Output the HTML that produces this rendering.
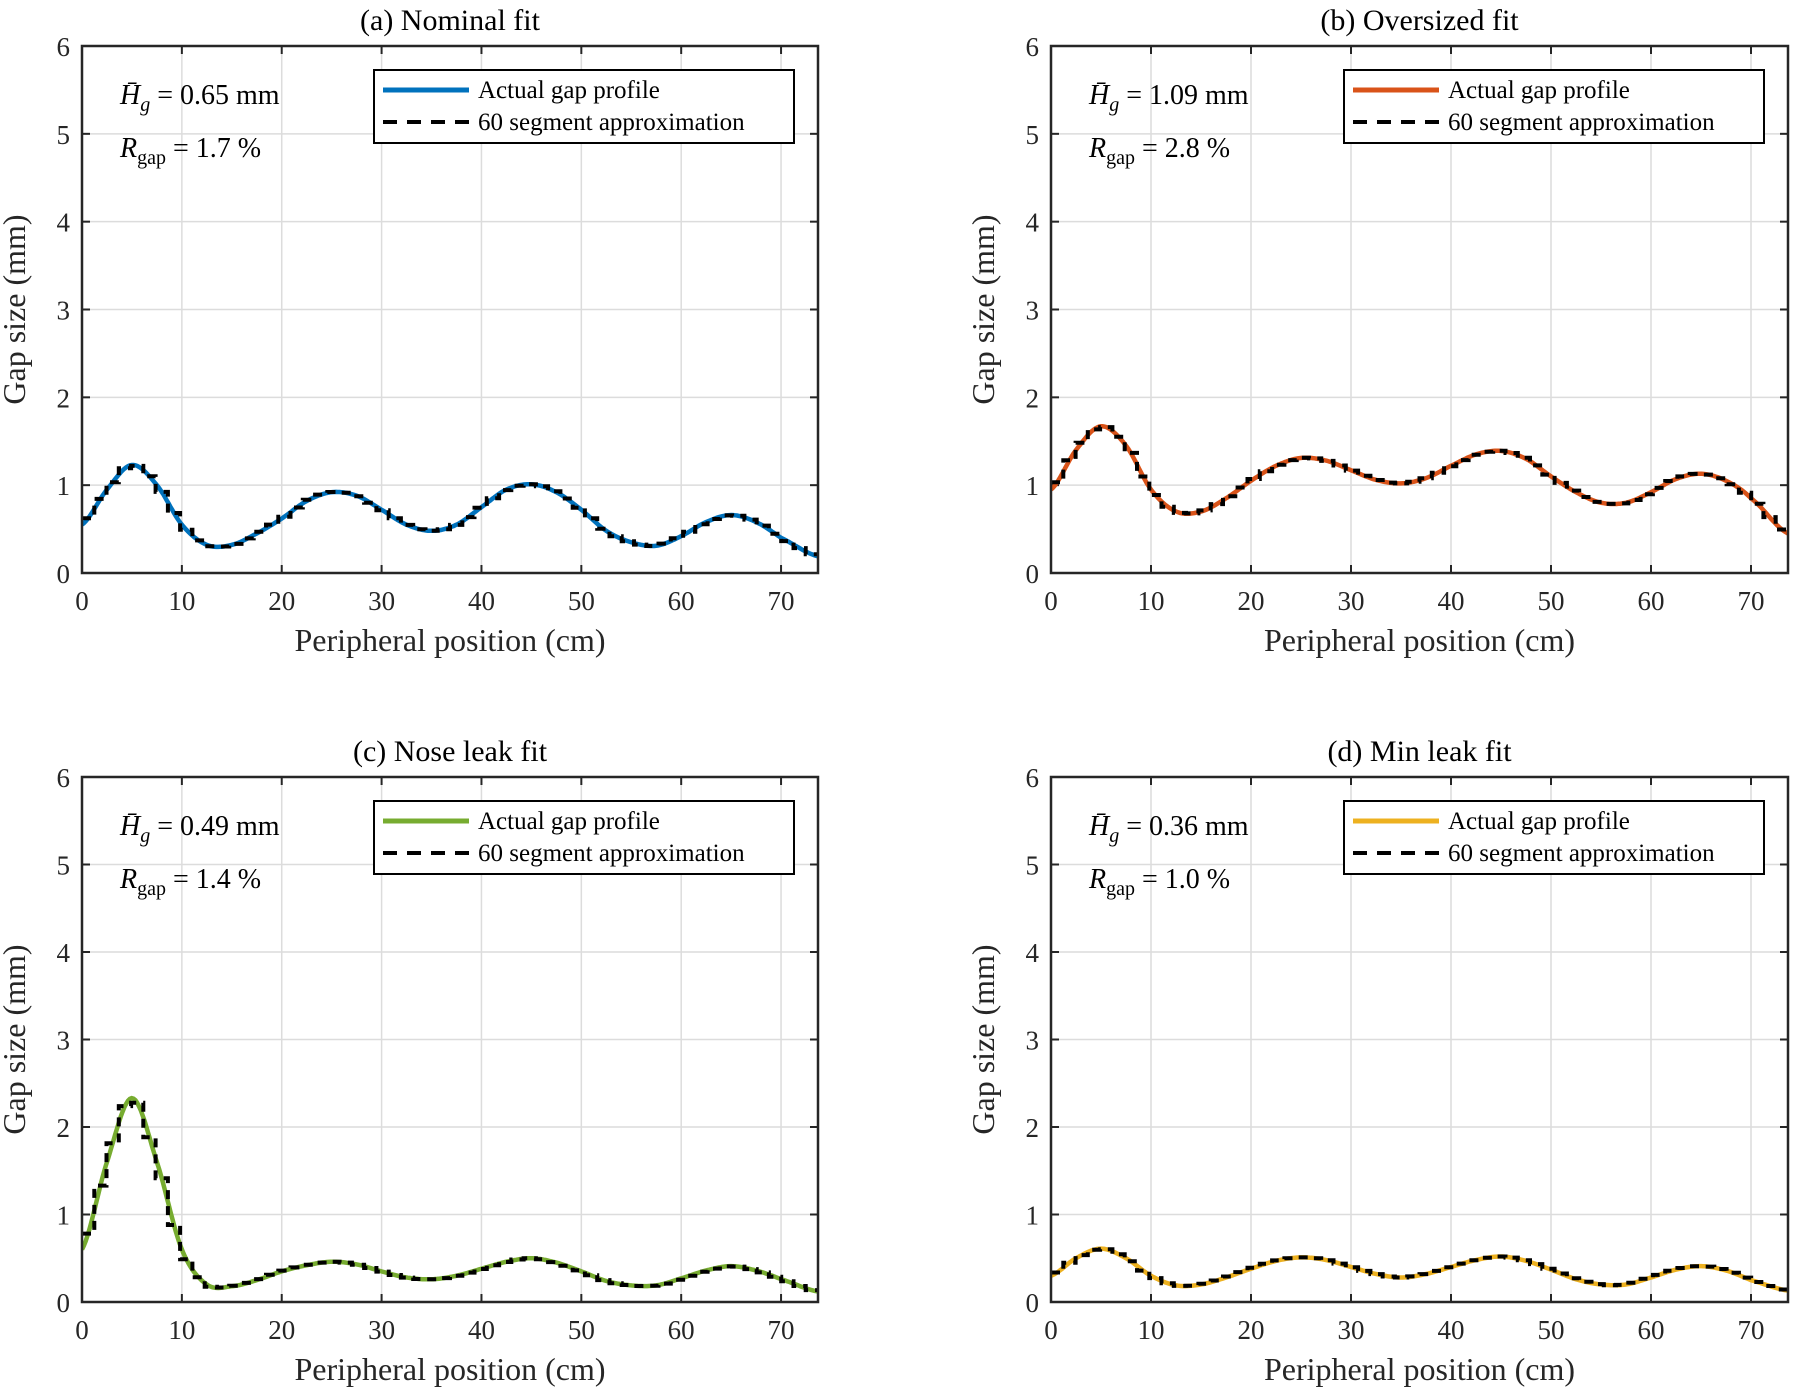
<!DOCTYPE html>
<html><head><meta charset="utf-8">
<style>
html,body{margin:0;padding:0;background:#fff;}
svg{display:block;font-family:"Liberation Serif",serif;}
</style></head>
<body>
<svg id="fig" width="1797" height="1399" viewBox="0 0 1797 1399" xmlns="http://www.w3.org/2000/svg"></svg>
<script>
const xKnots = [0,2.5,5,7.5,10,12.5,15,17.5,20,22.5,25,27.5,30,32.5,35,37.5,40,42.5,45,47.5,50,52.5,55,57.5,60,62.5,65,67.5,70,73.7];
const seriesA = [0.55,0.95,1.23,1.0,0.55,0.32,0.32,0.45,0.62,0.82,0.92,0.88,0.72,0.55,0.48,0.55,0.75,0.95,1.01,0.92,0.72,0.48,0.35,0.31,0.42,0.58,0.66,0.58,0.4,0.19];
const seriesB = [0.95,1.4,1.67,1.45,0.95,0.7,0.7,0.85,1.05,1.22,1.31,1.28,1.17,1.06,1.02,1.08,1.22,1.35,1.39,1.3,1.1,0.92,0.8,0.8,0.92,1.07,1.13,1.05,0.85,0.45];
const seriesC = [0.6,1.6,2.33,1.6,0.6,0.2,0.18,0.25,0.35,0.42,0.46,0.43,0.35,0.28,0.26,0.3,0.38,0.46,0.5,0.45,0.35,0.24,0.19,0.19,0.27,0.36,0.41,0.36,0.26,0.12];
const seriesD = [0.3,0.5,0.61,0.5,0.3,0.19,0.2,0.28,0.38,0.47,0.51,0.48,0.4,0.32,0.28,0.32,0.4,0.48,0.52,0.47,0.37,0.26,0.2,0.2,0.28,0.37,0.41,0.36,0.25,0.13];
const xTicks = [0,10,20,30,40,50,60,70];
const yTicks = [0,1,2,3,4,5,6];
const titles = ["(a) Nominal fit","(b) Oversized fit","(c) Nose leak fit","(d) Min leak fit"];
const meanGaps = ["0.65","1.09","0.49","0.36"];
const rGaps = ["1.7","2.8","1.4","1.0"];
const nSegments = 60;
const X_MAX = 73.7, Y_MAX = 6;

const NS = "http://www.w3.org/2000/svg";
const svg = document.getElementById('fig');
function mk(tag, attrs, parent){
  const e = document.createElementNS(NS, tag);
  for (const k in attrs) e.setAttribute(k, attrs[k]);
  (parent||svg).appendChild(e);
  return e;
}
function interp(xs, ys, x){
  let i = 0;
  while (i < xs.length-2 && x > xs[i+1]) i++;
  const x0=xs[i], x1=xs[i+1];
  const p0 = ys[Math.max(i-1,0)], p1=ys[i], p2=ys[i+1], p3=ys[Math.min(i+2,ys.length-1)];
  const t = (x-x0)/(x1-x0);
  const t2=t*t, t3=t2*t;
  return 0.5*((2*p1)+(-p0+p2)*t+(2*p0-5*p1+4*p2-p3)*t2+(-p0+3*p1-3*p2+p3)*t3);
}

const panels = [
  {L:82,R:818,T:46,B:573,data:seriesA,color:"#0072BD",name:"a"},
  {L:1051,R:1788,T:46,B:573,data:seriesB,color:"#D95319",name:"b"},
  {L:82,R:818,T:777,B:1302,data:seriesC,color:"#77AC30",name:"c"},
  {L:1051,R:1788,T:777,B:1302,data:seriesD,color:"#EDB120",name:"d"}
];

panels.forEach((p, idx) => {
  const g = mk('g', {});
  
  
  const sx = v => p.L + v/X_MAX*(p.R-p.L);
  const sy = v => p.B - v/Y_MAX*(p.B-p.T);
  xTicks.forEach(t => {
    const l = mk('line',{x1:sx(t),x2:sx(t),y1:p.T,y2:p.B,stroke:"#dcdcdc","stroke-width":1.5},g);
    
    
    mk('line',{x1:sx(t),x2:sx(t),y1:p.B,y2:p.B-8,stroke:"#262626","stroke-width":2},g);
    mk('line',{x1:sx(t),x2:sx(t),y1:p.T,y2:p.T+8,stroke:"#262626","stroke-width":2},g);
    const tx = mk('text',{x:sx(t),y:p.B+37,"text-anchor":"middle","font-size":27,fill:"#262626"},g);
    tx.textContent = t;
    
    
  });
  yTicks.forEach(t => {
    const l = mk('line',{x1:p.L,x2:p.R,y1:sy(t),y2:sy(t),stroke:"#dcdcdc","stroke-width":1.5},g);
    
    
    mk('line',{x1:p.L,x2:p.L+8,y1:sy(t),y2:sy(t),stroke:"#262626","stroke-width":2},g);
    mk('line',{x1:p.R,x2:p.R-8,y1:sy(t),y2:sy(t),stroke:"#262626","stroke-width":2},g);
    const tx = mk('text',{x:p.L-12,y:sy(t)+10,"text-anchor":"end","font-size":27,fill:"#262626"},g);
    tx.textContent = t;
    
    
  });
  const cp = mk('clipPath',{id:'clip'+idx},g);
  mk('rect',{x:p.L,y:p.T,width:p.R-p.L,height:p.B-p.T},cp);
  let d = "";
  for (let i=0;i<=400;i++){
    const x = X_MAX*i/400;
    d += (i?"L":"M") + sx(x).toFixed(1) + "," + sy(interp(xKnots,p.data,x)).toFixed(1);
  }
  const curve = mk('path',{d:d,fill:"none",stroke:p.color,"stroke-width":4.5,"clip-path":"url(#clip"+idx+")"},g);
  
  
  let ds = "";
  const w = X_MAX/nSegments;
  for (let k=0;k<nSegments;k++){
    const v = interp(xKnots,p.data,(k+0.5)*w);
    ds += (k?"L":"M") + sx(k*w).toFixed(1) + "," + sy(v).toFixed(1) + "L" + sx((k+1)*w).toFixed(1) + "," + sy(v).toFixed(1);
  }
  const step = mk('path',{d:ds,fill:"none",stroke:"#000","stroke-width":4,"stroke-dasharray":"9 7","clip-path":"url(#clip"+idx+")"},g);
  
  
  const box = mk('rect',{x:p.L,y:p.T,width:p.R-p.L,height:p.B-p.T,fill:"none",stroke:"#262626","stroke-width":2.5},g);
  
  
  const ti = mk('text',{x:(p.L+p.R)/2,y:p.T-16,"text-anchor":"middle","font-size":30,fill:"#000"},g);
  ti.textContent = titles[idx];
  
  
  const xl = mk('text',{x:(p.L+p.R)/2,y:p.B+78,"text-anchor":"middle","font-size":32,fill:"#262626"},g);
  xl.textContent = "Peripheral position (cm)";
  
  
  const ycx = p.L-57, ycy = (p.T+p.B)/2;
  const yl = mk('text',{x:ycx,y:ycy,"text-anchor":"middle","font-size":32,fill:"#262626",transform:"rotate(-90 "+ycx+" "+ycy+")"},g);
  yl.textContent = "Gap size (mm)";
  
  
  const a1 = mk('text',{x:p.L+38,y:p.T+58,"font-size":28,fill:"#000"},g);
  a1.innerHTML = '<tspan font-style="italic">H̄</tspan><tspan font-style="italic" font-size="20" dy="7">g</tspan><tspan dy="-7"> = '+meanGaps[idx]+' mm</tspan>';
  
  
  const a2 = mk('text',{x:p.L+38,y:p.T+111,"font-size":28,fill:"#000"},g);
  a2.innerHTML = '<tspan font-style="italic">R</tspan><tspan font-size="20" dy="7">gap</tspan><tspan dy="-7"> = '+rGaps[idx]+' %</tspan>';
  
  
  const lx = p.R-444, ly = p.T+24;
  const lg = mk('g',{},g);
  
  
  mk('rect',{x:lx,y:ly,width:420,height:73,fill:"#fff",stroke:"#000","stroke-width":2},lg);
  mk('line',{x1:lx+9,x2:lx+95,y1:ly+20,y2:ly+20,stroke:p.color,"stroke-width":5},lg);
  mk('line',{x1:lx+9,x2:lx+95,y1:ly+52,y2:ly+52,stroke:"#000","stroke-width":4,"stroke-dasharray":"14 10"},lg);
  const t1 = mk('text',{x:lx+104,y:ly+28,"font-size":25,fill:"#000"},lg);
  t1.textContent = "Actual gap profile";
  
  
  const t2 = mk('text',{x:lx+104,y:ly+60,"font-size":25,fill:"#000"},lg);
  t2.textContent = "60 segment approximation";
  
  
});
</script>
</body></html>
